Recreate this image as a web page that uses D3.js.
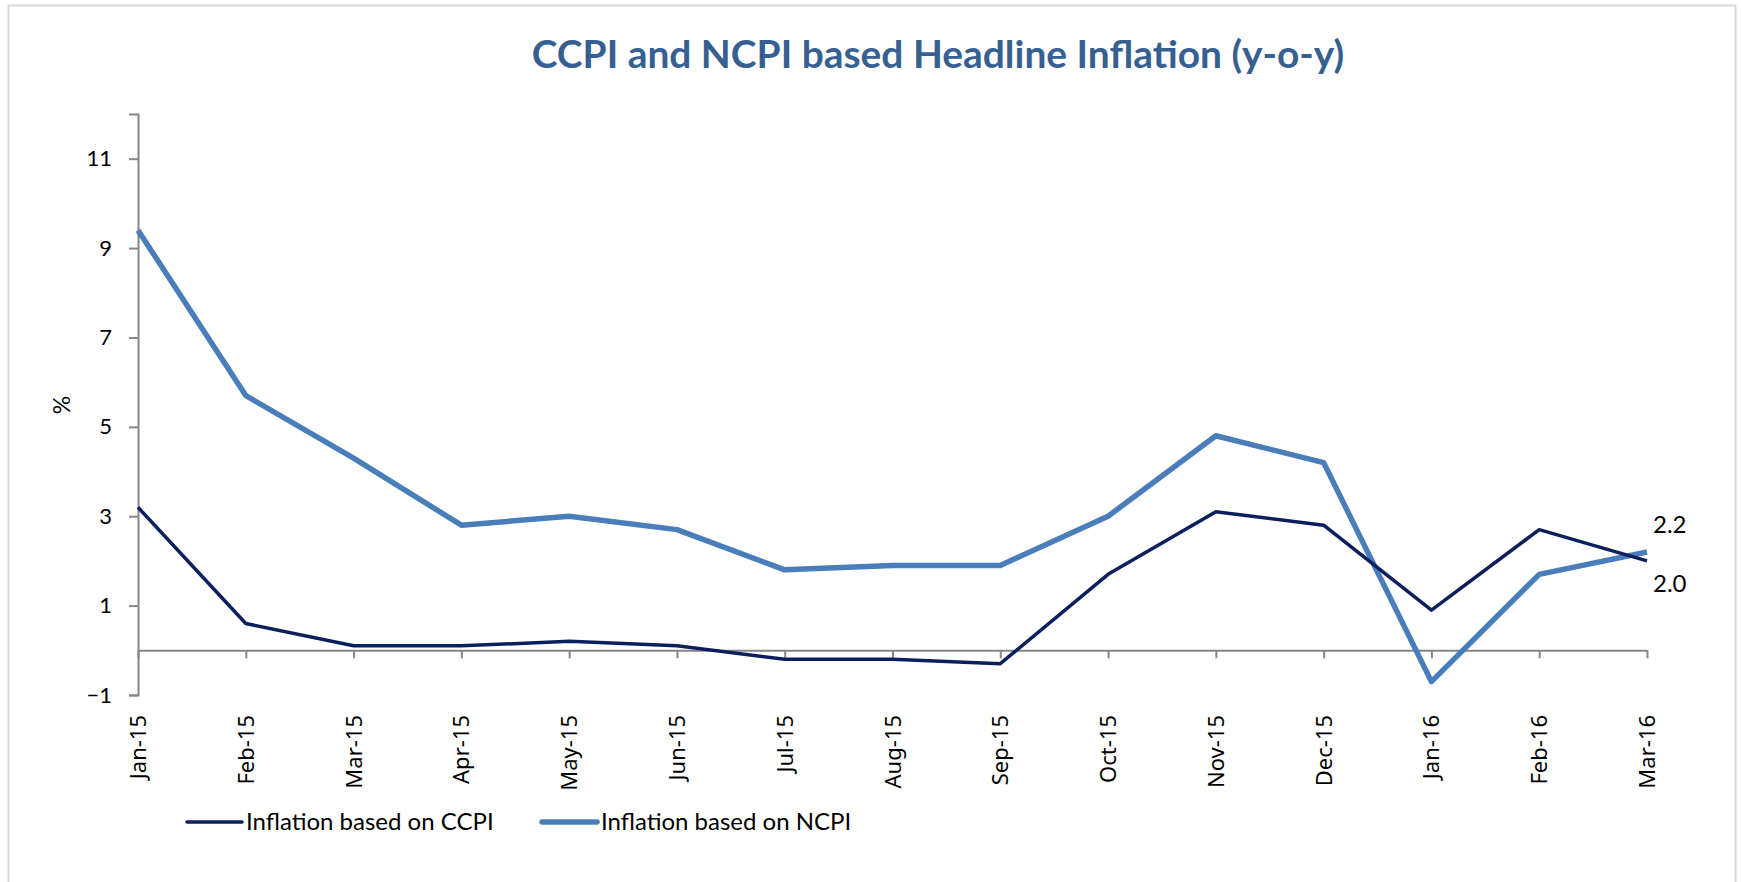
<!DOCTYPE html>
<html>
<head>
<meta charset="utf-8">
<script src="https://cdn.jsdelivr.net/npm/d3@7"></script>
<style>
  body { margin: 0; background: #fff; }
  svg { display: block; }
</style>
</head>
<body>
<div id="chart"></div>
<script>
"use strict";

/******************************
*** CHART DATA              ***
******************************/

var months = ["Jan-15", "Feb-15", "Mar-15", "Apr-15", "May-15", "Jun-15", "Jul-15",
              "Aug-15", "Sep-15", "Oct-15", "Nov-15", "Dec-15", "Jan-16", "Feb-16", "Mar-16"];

var ccpi = [3.2, 0.6, 0.1, 0.1, 0.2, 0.1, -0.2, -0.2, -0.3, 1.7, 3.1, 2.8, 0.9, 2.7, 2.0];
var ncpi = [9.4, 5.7, 4.3, 2.8, 3.0, 2.7, 1.8, 1.9, 1.9, 3.0, 4.8, 4.2, -0.7, 1.7, 2.2];

var yTicks = [-1, 1, 3, 5, 7, 9, 11];

var seriesNames = ["Inflation based on CCPI", "Inflation based on NCPI"];


/******************************
*** SIZES AND SCALES        ***
******************************/

var width = 1741, height = 882;

var x = d3.scalePoint()
  .domain(months)
  .range([138, 1647]);

var y = d3.scaleLinear()
  .domain([-1, 12])
  .range([695, 114]);

var svg = d3.select("#chart").append("svg")
  .attr("width", width)
  .attr("height", height);

//outer frame of the chart
svg.append("rect")
  .attr("x", 8.5).attr("y", 5.5)
  .attr("width", 1727).attr("height", 900)
  .attr("fill", "none")
  .attr("stroke", "#d9d9d9")
  .attr("stroke-width", 2);

//title
var title = svg.append("text")
  .attr("x", 938).attr("y", 68)
  .attr("text-anchor", "middle")
  .attr("font-family", "Lato, sans-serif")
  .attr("font-weight", "bold")
  .attr("font-size", 36)
  .attr("fill", "#376092")
  .text("CCPI and NCPI based Headline Inflation (y-o-y)");

//shrink/grow title font so it spans the same width as the original
var tw = title.node().getComputedTextLength();
title.attr("font-size", 36 * 813 / tw);


/******************************
*** AXES                    ***
******************************/

var axisColor = "#868686";

//y axis, values on the left
var yAxis = svg.append("g")
  .attr("transform", "translate(" + x(months[0]) + ",0)")
  .call(d3.axisLeft(y).tickValues(yTicks).tickSize(9).tickPadding(17).tickFormat(d3.format("d")));

yAxis.select(".domain").attr("stroke", axisColor).attr("stroke-width", 2);
yAxis.selectAll(".tick line").attr("stroke", axisColor).attr("stroke-width", 2);
yAxis.selectAll(".tick text")
  .attr("font-family", "Lato, sans-serif")
  .attr("font-size", 22)
  .attr("fill", "#000");

//x axis crosses at zero
var xAxis = svg.append("g")
  .attr("transform", "translate(0," + y(0) + ")")
  .call(d3.axisBottom(x).tickSize(8).tickSizeOuter(0).tickFormat(""));

xAxis.select(".domain").attr("stroke", axisColor).attr("stroke-width", 2);
xAxis.selectAll(".tick line").attr("stroke", axisColor).attr("stroke-width", 2);

//month labels sit below the plot, rotated
svg.append("g")
  .selectAll("text")
  .data(months)
  .enter()
  .append("text")
  .attr("transform", function(d) { return "translate(" + (x(d) + 8) + ",715) rotate(-90)"; })
  .attr("text-anchor", "end")
  .attr("font-family", "'Noto Sans', sans-serif")
  .attr("font-size", 22)
  .attr("fill", "#000")
  .text(function(d) { return d; });

//y axis title
svg.append("text")
  .attr("transform", "translate(70,405) rotate(-90)")
  .attr("text-anchor", "middle")
  .attr("font-family", "Lato, sans-serif")
  .attr("font-size", 23)
  .attr("fill", "#000")
  .text("%");


/******************************
*** LINES                   ***
******************************/

var line = d3.line()
  .x(function(d, i) { return x(months[i]); })
  .y(function(d) { return y(d); });

svg.append("path")
  .datum(ncpi)
  .attr("d", line)
  .attr("fill", "none")
  .attr("stroke", "#4a7ebb")
  .attr("stroke-width", 5.5)
  .attr("stroke-linejoin", "round");

svg.append("path")
  .datum(ccpi)
  .attr("d", line)
  .attr("fill", "none")
  .attr("stroke", "#0b1f5e")
  .attr("stroke-width", 3.5)
  .attr("stroke-linejoin", "round");

//labels on the last point, ncpi above and ccpi below
var last = months.length - 1;

svg.append("text")
  .attr("x", x(months[last]) + 6)
  .attr("y", y(ncpi[last]) - 19)
  .attr("font-family", "Lato, sans-serif")
  .attr("font-size", 24)
  .attr("fill", "#000")
  .text(d3.format(".1f")(ncpi[last]));

svg.append("text")
  .attr("x", x(months[last]) + 6)
  .attr("y", y(ccpi[last]) + 31)
  .attr("font-family", "Lato, sans-serif")
  .attr("font-size", 24)
  .attr("fill", "#000")
  .text(d3.format(".1f")(ccpi[last]));


/******************************
*** LEGEND                  ***
******************************/

var legend = [
  {name: seriesNames[0], color: "#0b1f5e", w: 3.5, x: 187},
  {name: seriesNames[1], color: "#4a7ebb", w: 5.5, x: 542}
];

var items = svg.append("g")
  .selectAll("g")
  .data(legend)
  .enter()
  .append("g")
  .attr("transform", function(d) { return "translate(" + d.x + ",822)"; });

items.append("line")
  .attr("x1", 0).attr("x2", 55)
  .attr("stroke", function(d) { return d.color; })
  .attr("stroke-width", function(d) { return d.w; })
  .attr("stroke-linecap", "round");

items.append("text")
  .attr("x", 59)
  .attr("y", 8)
  .attr("font-family", "Lato, sans-serif")
  .attr("font-size", 24)
  .attr("fill", "#000")
  .text(function(d) { return d.name; });

</script>
</body>
</html>
